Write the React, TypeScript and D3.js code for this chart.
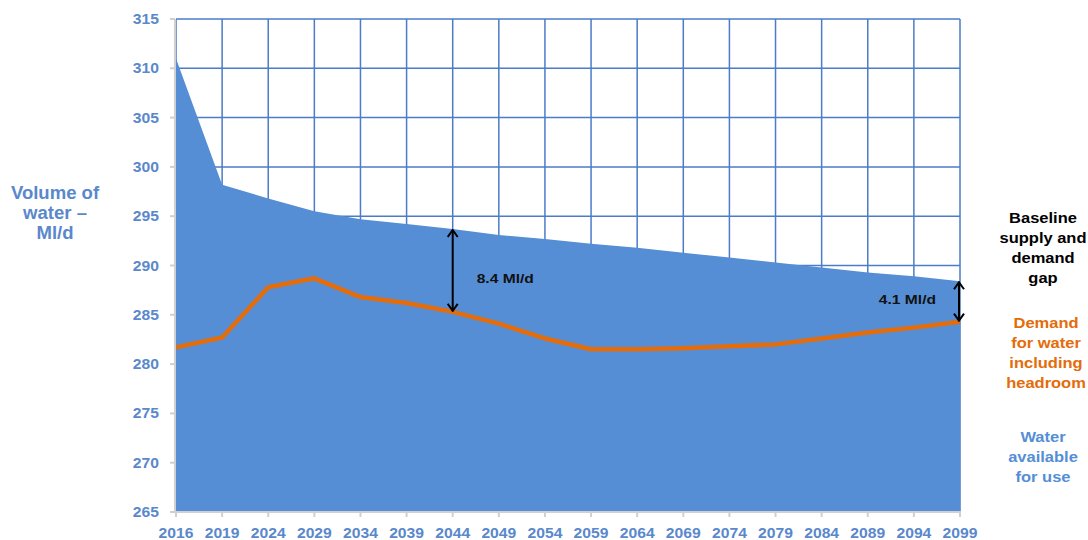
import React from "react";
import * as d3 from "d3";

// Categories along the time axis
const years = [
  "2016", "2019", "2024", "2029", "2034", "2039", "2044", "2049", "2054",
  "2059", "2064", "2069", "2074", "2079", "2084", "2089", "2094", "2099",
];

// Water available for use (Ml/d)
const supply = [
  311.0, 298.2, 296.8, 295.5, 294.7, 294.2, 293.7, 293.1, 292.7,
  292.2, 291.8, 291.3, 290.8, 290.3, 289.8, 289.3, 288.9, 288.4,
];

// Demand for water including headroom (Ml/d)
const demand = [
  281.7, 282.7, 287.8, 288.7, 286.8, 286.2, 285.3, 284.1, 282.6,
  281.5, 281.5, 281.6, 281.8, 282.0, 282.6, 283.2, 283.7, 284.3,
];

const yTicks = [265, 270, 275, 280, 285, 290, 295, 300, 305, 310, 315];

// Years where the supply–demand gap is annotated
const gapYears = ["2044", "2099"];

const W = 1088;
const H = 540;
const FONT = "'Liberation Sans', Arial, sans-serif";
const STRETCH = 1.12;

const AXIS_BLUE = "#5A88CC";
const FILL_BLUE = "#558ED5";
const GRID_BLUE = "#4C7BC9";
const ORANGE = "#E46C0A";

function SText({
  x, y, children, anchor = "middle", size = 14, fill = "#000", sx = STRETCH,
}: {
  x: number; y: number; children: React.ReactNode; anchor?: string;
  size?: number; fill?: string; sx?: number;
}) {
  return (
    <text
      transform={`translate(${x},${y}) scale(${sx},1)`}
      textAnchor={anchor as any}
      fontFamily={FONT}
      fontWeight="bold"
      fontSize={size}
      fill={fill}
    >
      {children}
    </text>
  );
}

export default function App() {
  const x = d3.scalePoint<string>().domain(years).range([176, 960]);
  const y = d3.scaleLinear().domain([265, 315]).range([512, 19]);

  const area = d3
    .area<number>()
    .x((_, i) => x(years[i])!)
    .y0(y(265))
    .y1((d) => y(d));

  const line = d3
    .line<number>()
    .x((_, i) => x(years[i])!)
    .y((d) => y(d));

  const rightLabel = (lines: string[], cx: number, top: number, fill: string) =>
    lines.map((t, i) => (
      <SText key={t} x={cx} y={top + i * 20} size={15} sx={1.1} fill={fill}>
        {t}
      </SText>
    ));

  return (
    <svg
      width={W}
      height={H}
      style={{ position: "absolute", left: 0, top: 0, background: "#fff" }}
    >
      <defs>
        <marker
          id="chev"
          viewBox="0 0 10 12"
          refX="9"
          refY="6"
          markerWidth="10"
          markerHeight="12"
          markerUnits="userSpaceOnUse"
          orient="auto-start-reverse"
        >
          <path d="M2,1 L9,6 L2,11" fill="none" stroke="#000" strokeWidth={2} />
        </marker>
      </defs>

      {/* grid */}
      <g stroke={GRID_BLUE} strokeWidth={1.5}>
        {yTicks.map((t) => (
          <line key={t} x1={176} x2={960} y1={y(t)} y2={y(t)} />
        ))}
        {years.map((yr) => (
          <line key={yr} x1={x(yr)} x2={x(yr)} y1={y(315)} y2={y(265)} />
        ))}
      </g>

      {/* water available for use */}
      <path d={area(supply)!} fill={FILL_BLUE} />

      {/* demand line */}
      <path
        d={line(demand)!}
        fill="none"
        stroke={ORANGE}
        strokeWidth={4.5}
        strokeLinejoin="round"
      />

      {/* axes */}
      <g stroke="#D0D0D0" strokeWidth={2}>
        <line x1={175} x2={175} y1={y(315)} y2={y(265)} />
        <line x1={175} x2={961} y1={y(265)} y2={y(265)} />
        {yTicks.map((t) => (
          <line key={t} x1={170} x2={175} y1={y(t)} y2={y(t)} />
        ))}
        {years.map((yr) => (
          <line key={yr} x1={x(yr)} x2={x(yr)} y1={y(265)} y2={y(265) + 5} />
        ))}
      </g>

      {/* tick labels */}
      {yTicks.map((t) => (
        <SText key={t} x={159} y={y(t) + 5} anchor="end" fill={AXIS_BLUE}>
          {t}
        </SText>
      ))}
      {years.map((yr) => (
        <SText key={yr} x={x(yr)!} y={538} fill={AXIS_BLUE}>
          {yr}
        </SText>
      ))}

      {/* gap arrows */}
      {gapYears.map((yr) => {
        const i = years.indexOf(yr);
        const gx = x(yr)! + (yr === "2099" ? -1 : 0);
        return (
          <line
            key={yr}
            x1={gx}
            x2={gx}
            y1={y(supply[i]) + 1}
            y2={y(demand[i]) - 1}
            stroke="#000"
            strokeWidth={2}
            markerStart="url(#chev)"
            markerEnd="url(#chev)"
          />
        );
      })}
      {gapYears.map((yr) => {
        const i = years.indexOf(yr);
        const gap = (supply[i] - demand[i]).toFixed(1);
        const last = yr === "2099";
        return (
          <SText
            key={yr}
            x={last ? x(yr)! - 24 : x(yr)! + 24}
            y={last ? 304 : 283}
            anchor={last ? "end" : "start"}
            size={13}
            sx={1.2}
            fill="#111"
          >
            {`${gap} Ml/d`}
          </SText>
        );
      })}

      {/* axis title */}
      {["Volume of", "water –", "Ml/d"].map((t, i) => (
        <SText key={t} x={55} y={199 + i * 20} size={18} sx={1.03} fill={AXIS_BLUE}>
          {t}
        </SText>
      ))}

      {/* series labels */}
      {rightLabel(["Baseline", "supply and", "demand", "gap"], 1043, 223, "#000")}
      {rightLabel(["Demand", "for water", "including", "headroom"], 1046, 328, ORANGE)}
      {rightLabel(["Water", "available", "for use"], 1043, 442, FILL_BLUE)}
    </svg>
  );
}
